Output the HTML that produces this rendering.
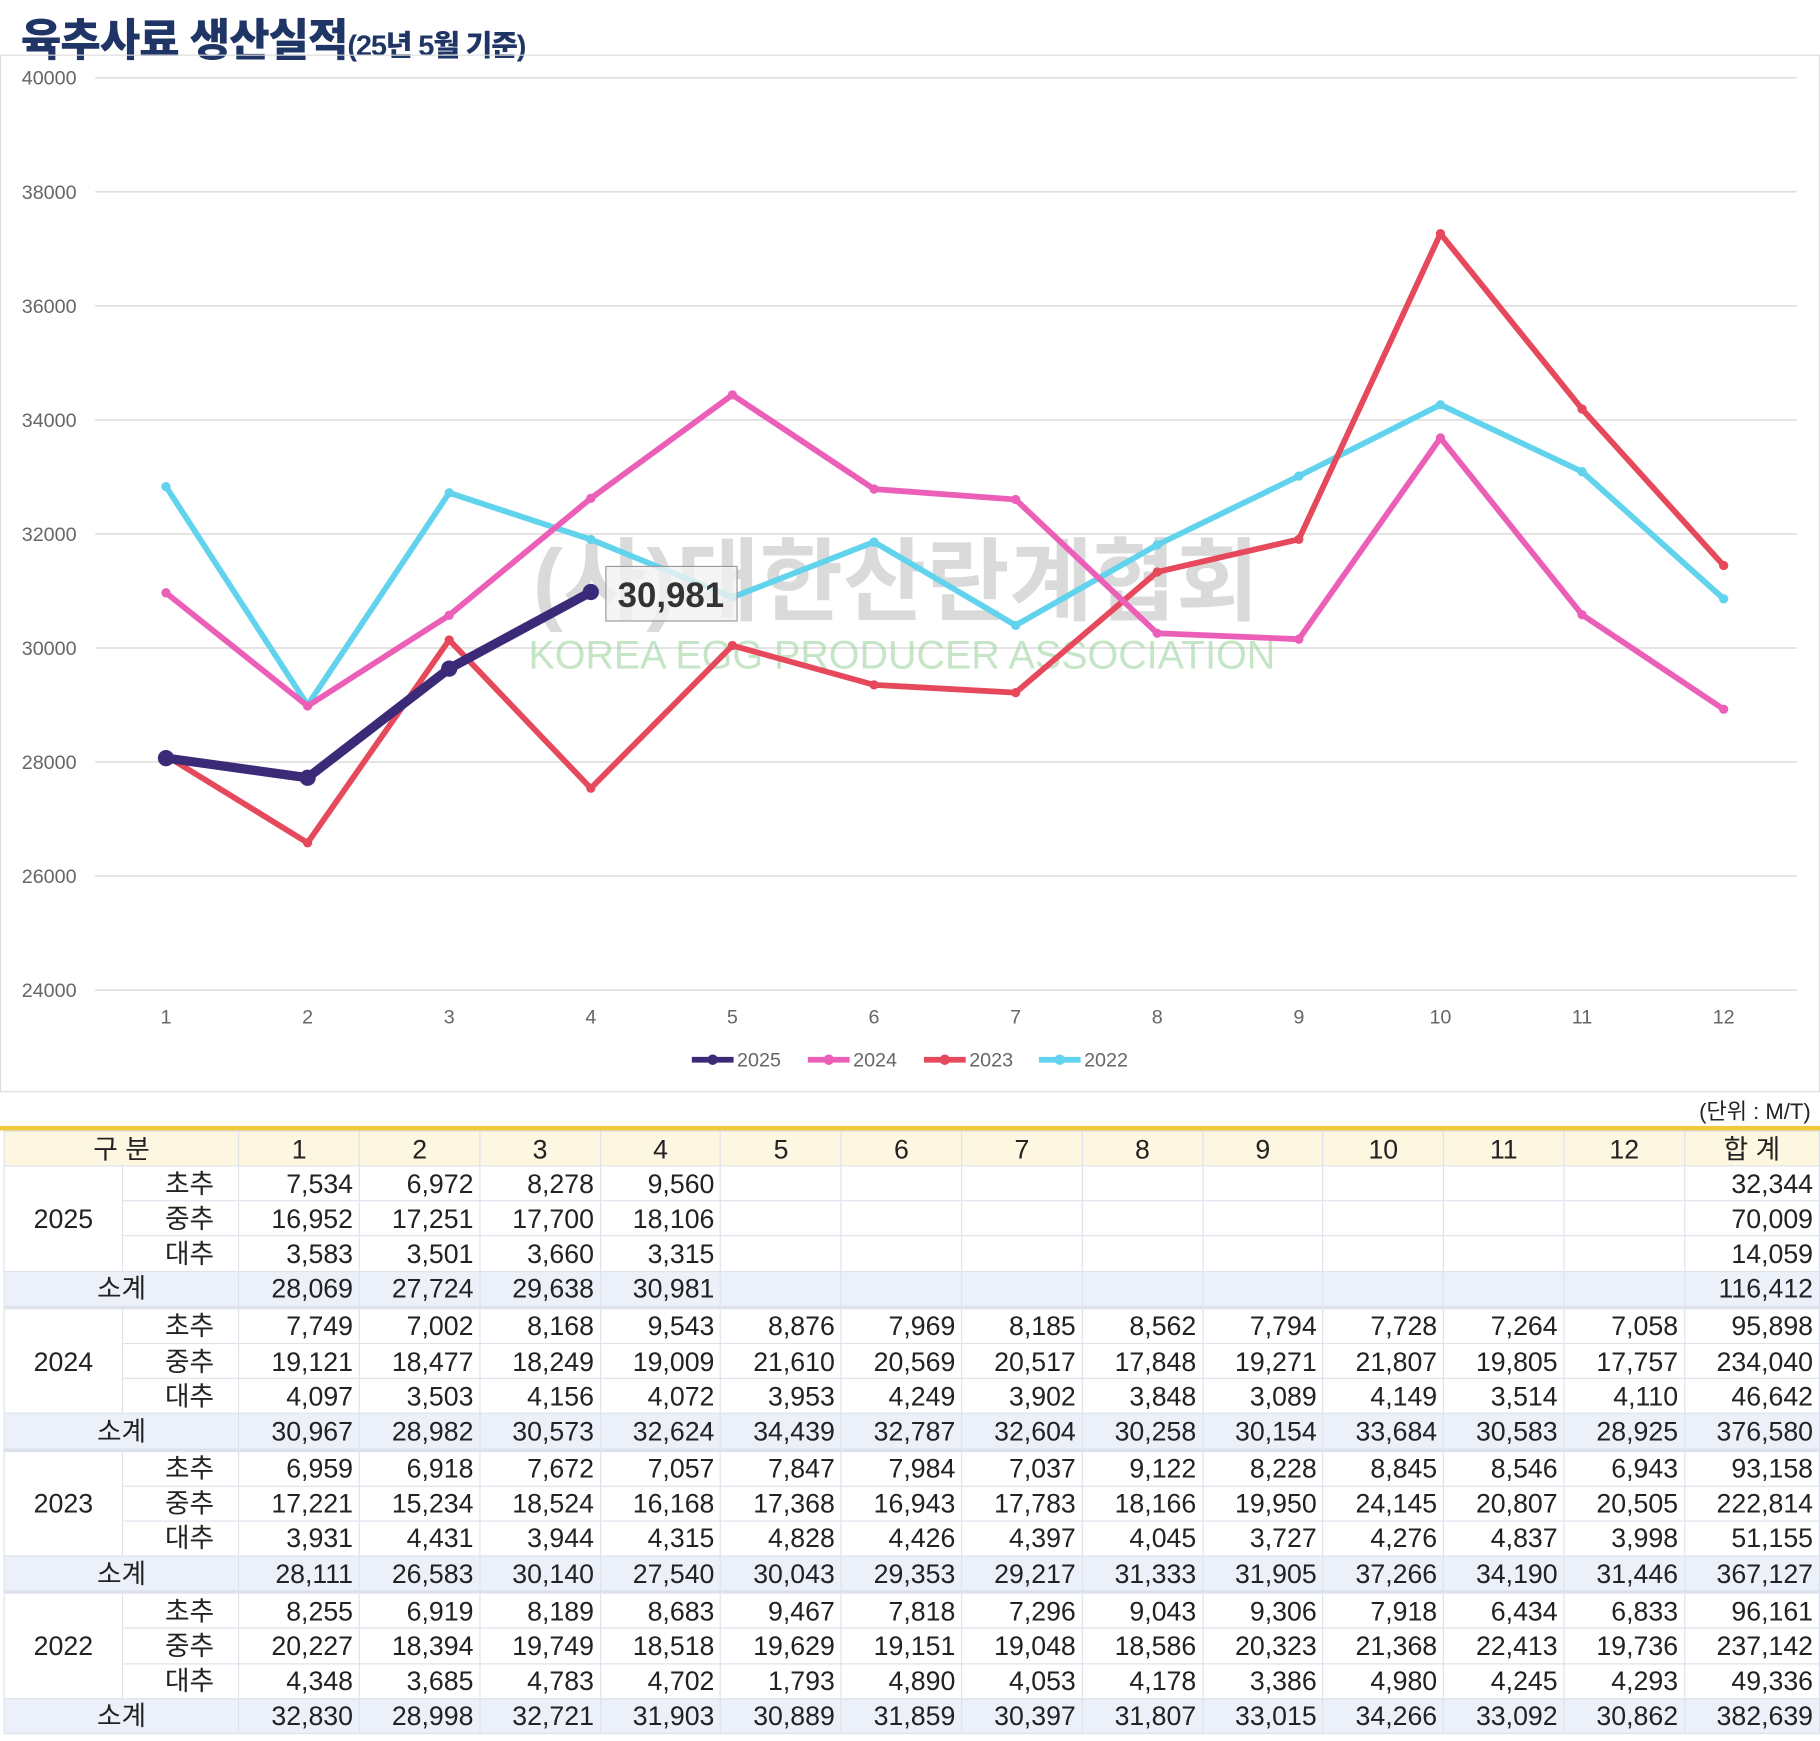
<!DOCTYPE html>
<html><head><meta charset="utf-8">
<style>
html,body{margin:0;padding:0;background:#fff;}
#wrap{width:1568px;height:1500px;transform:scale(1.160714);transform-origin:0 0;position:relative;font-family:"Liberation Sans","Noto Sans CJK KR",sans-serif;}
.t{position:absolute;}
table{border-collapse:collapse;position:absolute;left:3px;top:974px;width:1565px;table-layout:fixed;font-size:23px;color:#222;}
td{height:29.2px;padding:0 5px;border:1px solid #dde2ec;text-align:right;line-height:28px;}
td.c{text-align:center;}
tr.h td{background:#fdf6e1;text-align:center;height:29px;}
tr.s td{background:#ecf0f9;}
tr.s td.c{text-align:center;}
tr.sep td{border-top:3px solid #dde2ec;}
</style></head><body>
<div id="wrap">
<div class="t" style="left:18px;top:4px;font-size:38px;font-weight:900;color:#1f3566;letter-spacing:-1px;">육추사료 생산실적<span style="font-size:25px;">(25년 5월 기준)</span></div>
<div class="t" style="left:0;top:47px;width:1566px;height:892px;border:1px solid #ddd;"></div>
<svg id="ch" class="t" style="left:0;top:0" width="1568" height="960"></svg>
<div class="t" style="right:8px;top:943px;font-size:19px;color:#222;">(단위 : M/T)</div>
<div class="t" style="left:0;top:970px;width:1568px;height:4px;background:#f0c93a;"></div>
<table id="tb"></table>
</div>
<script>
var d={
2025:{a:[7534,6972,8278,9560],b:[16952,17251,17700,18106],c:[3583,3501,3660,3315],s:[28069,27724,29638,30981],t:[32344,70009,14059,116412]},
2024:{a:[7749,7002,8168,9543,8876,7969,8185,8562,7794,7728,7264,7058],b:[19121,18477,18249,19009,21610,20569,20517,17848,19271,21807,19805,17757],c:[4097,3503,4156,4072,3953,4249,3902,3848,3089,4149,3514,4110],s:[30967,28982,30573,32624,34439,32787,32604,30258,30154,33684,30583,28925],t:[95898,234040,46642,376580]},
2023:{a:[6959,6918,7672,7057,7847,7984,7037,9122,8228,8845,8546,6943],b:[17221,15234,18524,16168,17368,16943,17783,18166,19950,24145,20807,20505],c:[3931,4431,3944,4315,4828,4426,4397,4045,3727,4276,4837,3998],s:[28111,26583,30140,27540,30043,29353,29217,31333,31905,37266,34190,31446],t:[93158,222814,51155,367127]},
2022:{a:[8255,6919,8189,8683,9467,7818,7296,9043,9306,7918,6434,6833],b:[20227,18394,19749,18518,19629,19151,19048,18586,20323,21368,22413,19736],c:[4348,3685,4783,4702,1793,4890,4053,4178,3386,4980,4245,4293],s:[32830,28998,32721,31903,30889,31859,30397,31807,33015,34266,33092,30862],t:[96161,237142,49336,382639]}};
function f(n){return n.toLocaleString('en-US');}
var s='';
for(var v=24000;v<=40000;v+=2000){var y=67+(40000-v)*98.25/2000;
s+='<line x1="82" x2="1548" y1="'+y+'" y2="'+y+'" stroke="#e0e0e0" stroke-width="1.5"/>';
s+='<text x="66" y="'+(y+6)+'" text-anchor="end" font-size="17" fill="#666">'+v+'</text>';}
function X(i){return 143+i*122;}function Y(v){return 67+(40000-v)*98.25/2000;}
for(var i=0;i<12;i++)s+='<text x="'+X(i)+'" y="882" text-anchor="middle" font-size="17" fill="#666">'+(i+1)+'</text>';
s+='<text x="772" y="528" text-anchor="middle" font-size="78" font-weight="bold" fill="#bbb" fill-opacity="0.55">(사)대한산란계협회</text>';
s+='<text x="777" y="576" text-anchor="middle" font-size="34" fill="#9fd3a0" fill-opacity="0.6">KOREA EGG PRODUCER ASSOCIATION</text>';
var ser=[[2022,'#62d3ec',5,4],[2023,'#e6495b',5,4],[2024,'#ec5fb8',5,4],[2025,'#3a2a78',8,7]];
ser.forEach(function(q){var p=d[q[0]].s.map(function(v,i){return X(i)+','+Y(v);}).join(' ');
s+='<polyline points="'+p+'" fill="none" stroke="'+q[1]+'" stroke-width="'+q[2]+'" stroke-linejoin="round"/>';
d[q[0]].s.forEach(function(v,i){s+='<circle cx="'+X(i)+'" cy="'+Y(v)+'" r="'+q[3]+'" fill="'+q[1]+'"/>';});});
s+='<rect x="522" y="488" width="113" height="47" fill="#f2f2f2" fill-opacity="0.8" stroke="#999"/>';
s+='<text x="578" y="523" text-anchor="middle" font-size="30" font-weight="bold" fill="#333">30,981</text>';
var lg=[[2025,'#3a2a78',596],[2024,'#ec5fb8',696],[2023,'#e6495b',796],[2022,'#62d3ec',895]];
lg.forEach(function(q){s+='<line x1="'+q[2]+'" x2="'+(q[2]+36)+'" y1="913" y2="913" stroke="'+q[1]+'" stroke-width="5"/><circle cx="'+(q[2]+18)+'" cy="913" r="4.5" fill="'+q[1]+'"/><text x="'+(q[2]+39)+'" y="919" font-size="17" fill="#666">'+q[0]+'</text>';});
document.getElementById('ch').innerHTML=s;
var h='<colgroup><col style="width:102px"><col style="width:100px">';
for(i=0;i<13;i++)h+='<col style="width:'+(i==12?116:103.6)+'px">';
h+='</colgroup><tr class="h"><td colspan="2">구 분</td>';
for(i=1;i<=12;i++)h+='<td>'+i+'</td>';h+='<td>합 계</td></tr>';
var yrs=[2025,2024,2023,2022],nm=['초추','중추','대추'],k=['a','b','c'];
yrs.forEach(function(yr,yi){for(var r=0;r<3;r++){h+='<tr'+(r==0&&yi>0?' class="sep"':'')+'>';
if(r==0)h+='<td class="c" rowspan="3">'+yr+'</td>';
h+='<td class="c" style="padding-left:20px">'+nm[r]+'</td>';
for(var m=0;m<12;m++){var v=d[yr][k[r]][m];h+='<td>'+(v?f(v):'')+'</td>';}
h+='<td>'+f(d[yr].t[r])+'</td></tr>';}
h+='<tr class="s"><td class="c" colspan="2">소계</td>';
for(m=0;m<12;m++){v=d[yr].s[m];h+='<td>'+(v?f(v):'')+'</td>';}
h+='<td>'+f(d[yr].t[3])+'</td></tr>';});
document.getElementById('tb').innerHTML=h;
</script>
</body></html>
